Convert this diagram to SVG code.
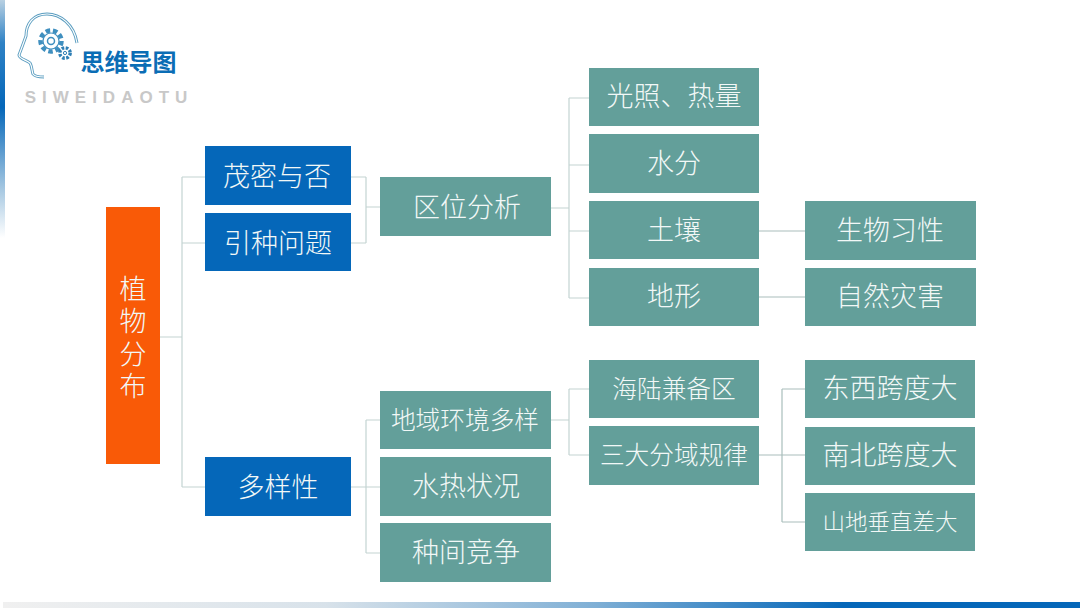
<svg xmlns="http://www.w3.org/2000/svg" width="1080" height="608" viewBox="0 0 1080 608">
<style>
text{font-family:"Noto Sans CJK SC","Noto Sans",sans-serif;fill:#f2f8f7;text-anchor:middle;font-weight:300}
.t{fill:#639f9a}.b{fill:#0567b9}.o{fill:#f95a07}
.l{font-size:27px}.m{font-size:24.7px}.s{font-size:22.5px}
#connectors path{fill:none;stroke:#c4d4d2;stroke-width:1.2}
#connectors path.d{stroke:#a9bebc}
#logo path,#logo circle{fill:none}
</style>
<defs>
<linearGradient id="bottom" x1="0" x2="1" y1="0" y2="0"><stop offset="0" stop-color="#f0f0f0"/><stop offset=".3" stop-color="#d8e2ea"/><stop offset=".55" stop-color="#7fafd5"/><stop offset=".78" stop-color="#0567b9"/><stop offset="1" stop-color="#0567b9"/></linearGradient>
<linearGradient id="left" x1="0" x2="0" y1="0" y2="1"><stop offset="0" stop-color="#b8d0e2"/><stop offset=".18" stop-color="#2f82c5"/><stop offset=".45" stop-color="#0567b9"/><stop offset=".8" stop-color="#a8c9e2"/><stop offset="1" stop-color="#ffffff"/></linearGradient>
</defs>
<rect width="1080" height="608" fill="#ffffff"/>
<rect x="0" y="0" width="5" height="238" fill="url(#left)"/>
<rect x="3" y="602" width="1077" height="6" fill="url(#bottom)"/>
<g id="logo">
<path d="M77 43C74 24 60 14 47 14C33 14 26 24 26 36L22 47L19 55C19 59 27 60 30 63C32 66 32 72 33 74C35 77 40 77 44 77" stroke="#5a9dc0" stroke-width="3"/>
<path d="M77 43C74 24 60 14 47 14C33 14 26 24 26 36L22 47L19 55C19 59 27 60 30 63C32 66 32 72 33 74C35 77 40 77 44 77" stroke="#ffffff" stroke-width="1.2"/>
<circle cx="51" cy="41" r="10.5" stroke="#3f8fbf" stroke-width="4.5" stroke-dasharray="4.5 2.8"/>
<circle cx="51" cy="41" r="8" stroke="#3f8fbf" stroke-width="1.2"/>
<circle cx="51" cy="41" r="3.5" stroke="#3f8fbf" stroke-width="1.5"/>
<circle cx="65" cy="53" r="5.2" stroke="#2f7fb5" stroke-width="3.4" stroke-dasharray="2.6 1.5"/>
<circle cx="65" cy="53" r="1.6" stroke="#2f7fb5" stroke-width="1"/>
<text x="128.500" y="71" style="font-size:24px;font-weight:700;fill:#0b6db5">思维导图</text>
<text x="109" y="103" style="font-family:'Liberation Sans',sans-serif;font-size:17px;font-weight:700;fill:#c8c8c8;letter-spacing:6px">SIWEIDAOTU</text>
</g>
<g id="connectors">
<path d="M159 337H182M182 177H205M182 243H205M182 177V487M182 487H205"/>
<path d="M350 177H366M350 243H366M366 177V243M366 207H380"/>
<path d="M350 487H380M366 420V553M366 420H380M366 553H380"/>
<path d="M551 208H569M569 98V298M569 98H589M569 165H589M569 231H589M569 298H589"/>
<path d="M759 231H805M759 297H805" class="d"/>
<path d="M551 420H569M569 389V455M569 389H589M569 455H589"/>
<path d="M759 455H805M782 389V522M782 389H805M782 522H805" class="d"/>
</g>
<g id="n-root"><rect class="o" x="106" y="207" width="54" height="257"/><text class="l" x="133" y="340" style="writing-mode:vertical-rl;letter-spacing:5.5px">植物分布</text></g>
<g id="n-maomi"><rect class="b" x="205" y="146" width="146" height="59"/><text class="l" x="277" y="186">茂密与否</text></g>
<g id="n-yinzhong"><rect class="b" x="205" y="213" width="146" height="58"/><text class="l" x="278" y="253">引种问题</text></g>
<g id="n-duoyang"><rect class="b" x="205" y="457" width="146" height="59"/><text class="l" x="278" y="497">多样性</text></g>
<g id="n-quwei"><rect class="t" x="380" y="177" width="171" height="59"/><text class="l" x="467" y="217">区位分析</text></g>
<g id="n-diyu"><rect class="t" x="380" y="391" width="171" height="58"/><text class="m" x="465" y="429">地域环境多样</text></g>
<g id="n-shuire"><rect class="t" x="380" y="457" width="171" height="59"/><text class="l" x="466" y="496">水热状况</text></g>
<g id="n-zhongjian"><rect class="t" x="380" y="523" width="171" height="59"/><text class="l" x="466" y="562">种间竞争</text></g>
<g id="n-guangzhao"><rect class="t" x="589" y="68" width="170" height="58"/><text class="l" x="674" y="106">光照、热量</text></g>
<g id="n-shuifen"><rect class="t" x="589" y="134" width="170" height="59"/><text class="l" x="674" y="173">水分</text></g>
<g id="n-turang"><rect class="t" x="589" y="201" width="170" height="58"/><text class="l" x="674" y="240">土壤</text></g>
<g id="n-dixing"><rect class="t" x="589" y="268" width="170" height="58"/><text class="l" x="674" y="306">地形</text></g>
<g id="n-hailu"><rect class="t" x="589" y="360" width="170" height="58"/><text class="m" x="674" y="398">海陆兼备区</text></g>
<g id="n-sanda"><rect class="t" x="589" y="426" width="170" height="59"/><text class="m" x="674" y="464">三大分域规律</text></g>
<g id="n-shengwu"><rect class="t" x="805" y="201" width="171" height="59"/><text class="l" x="890" y="240">生物习性</text></g>
<g id="n-ziran"><rect class="t" x="805" y="268" width="171" height="58"/><text class="l" x="890" y="306">自然灾害</text></g>
<g id="n-dongxi"><rect class="t" x="805" y="360" width="170" height="58"/><text class="l" x="890" y="398">东西跨度大</text></g>
<g id="n-nanbei"><rect class="t" x="805" y="427" width="170" height="58"/><text class="l" x="890" y="465">南北跨度大</text></g>
<g id="n-shandi"><rect class="t" x="805" y="493" width="170" height="58"/><text class="s" x="890" y="530">山地垂直差大</text></g>
</svg>
